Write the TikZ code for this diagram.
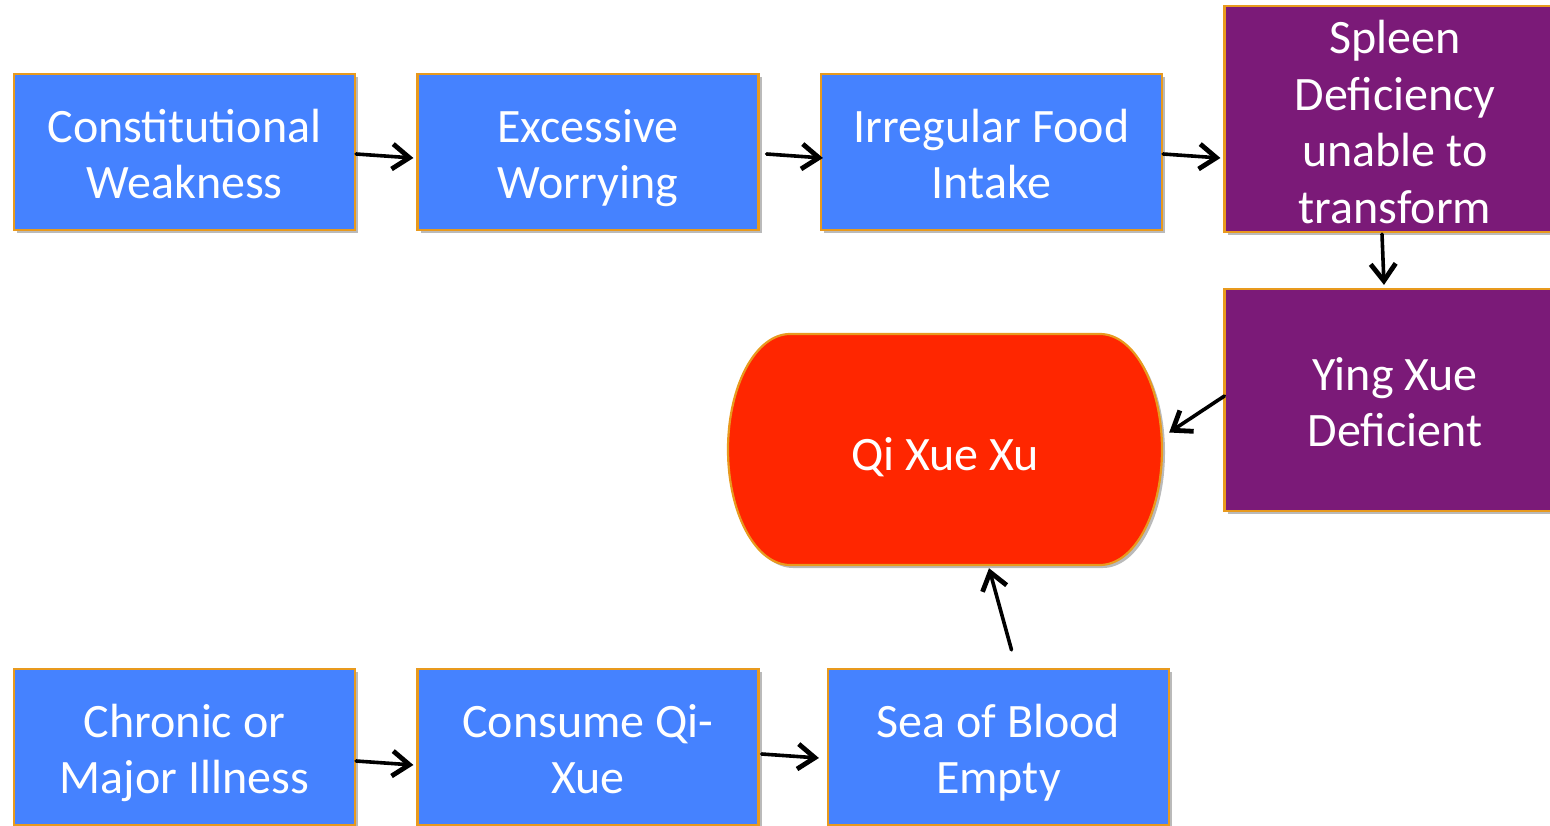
\documentclass[tikz,border=0pt]{standalone}
\usepackage{fontspec}
\setmainfont{Carlito}
\usetikzlibrary{arrows.meta,shadows,calc}
\definecolor{boxblue}{RGB}{69,130,255}
\definecolor{boxpurple}{RGB}{123,26,120}
\definecolor{boxred}{RGB}{255,38,0}
\definecolor{boxorange}{RGB}{232,154,30}
\newcommand\boxlines[2][-7pt]{\raisebox{#1}[\height][\depth]{\begin{tabular}{@{}c@{}}#2\end{tabular}}}
\tikzset{
  basebox/.style={rectangle, draw=boxorange, line width=2.2pt, text=white,
    inner sep=0pt, minimum width=341pt, minimum height=156pt,
    font=\fontsize{48}{56.5}\selectfont,
    drop shadow={shadow xshift=3pt, shadow yshift=-3pt, opacity=0.45, fill=black!60}},
  bluebox/.style={basebox, fill=boxblue},
  purplebox/.style={basebox, fill=boxpurple, minimum height=222pt},
  conn/.style={line width=3.6pt, line cap=round,
    -{Straight Barb[length=17pt, width=25pt, line width=4.8pt]}}
}
\begin{document}
\begin{tikzpicture}[x=1pt,y=-1pt]
\useasboundingbox (0,0) rectangle (1550,826);
% top row
\node[bluebox] (cw) at (184.5,152) {\boxlines{Constitutional\\Weakness}};
\node[bluebox] (ew) at (588,152) {\boxlines{Excessive\\Worrying}};
\node[bluebox] (ifi) at (991.5,152) {\boxlines{Irregular Food\\Intake}};
\node[purplebox] (sd) at (1395,119) {\boxlines[-8pt]{Spleen\\Deficiency\\unable to\\transform}};
\node[purplebox] (yx) at (1395,400) {\boxlines{Ying Xue\\Deficient}};
% central terminator
\fill[black!60, opacity=0.45, shift={(3,3)}]
  (790,334) -- (1100,334) arc[start angle=90, end angle=-90, x radius=62, y radius=-115.5]
  -- (790,565) arc[start angle=270, end angle=90, x radius=62, y radius=-115.5] -- cycle;
\draw[draw=boxorange, line width=2.2pt, fill=boxred]
  (790,334) -- (1100,334) arc[start angle=90, end angle=-90, x radius=62, y radius=-115.5]
  -- (790,565) arc[start angle=270, end angle=90, x radius=62, y radius=-115.5] -- cycle;
\node[text=white, font=\fontsize{48}{56.5}\selectfont, minimum width=434pt, minimum height=231pt, inner sep=0pt]
  (qx) at (945,449.5) {\boxlines[-10pt]{Qi Xue Xu}};
% bottom row
\node[bluebox] (cm) at (184.5,747) {\boxlines{Chronic or\\Major Illness}};
\node[bluebox] (cq) at (588,747) {\boxlines{Consume Qi-\\Xue}};
\node[bluebox] (sb) at (998.5,747) {\boxlines{Sea of Blood\\Empty}};
% connectors
\draw[conn] ($(cw.east)+(0,2)$) -- ($(ew.west)+(-3,6)$);
\draw[conn] ($(ew.east)+(7,2)$) -- ($(ifi.west)+(3,6)$);
\draw[conn] ($(ifi.east)+(0,2)$) -- ($(sd.west)+(-3,39)$);
\draw[conn] ($(sd.south)+(-13,1)$) -- ($(yx.north)+(-11,-3)$);
\draw[conn] ($(yx.west)+(1,-4)$) -- ($(qx.east)+(7,-17)$);
\draw[conn] ($(sb.north)+(13,-18)$) -- ($(qx.south)+(44,3)$);
\draw[conn] ($(cm.east)+(0,14)$) -- ($(cq.west)+(-3,18)$);
\draw[conn] ($(cq.east)+(2,7)$) -- ($(sb.west)+(-8,11)$);
\end{tikzpicture}
\end{document}
